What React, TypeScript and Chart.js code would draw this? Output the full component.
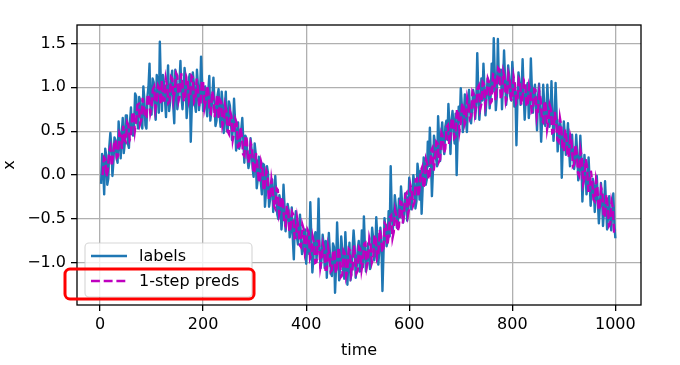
import React, { useEffect, useRef } from 'react';
import { Chart, registerables } from 'chart.js';

Chart.register(...registerables);

// Noisy observations ("labels"), time = 2, 4, ..., 1000
const labelValues = [
  -0.1, 0.24, 0.11, -0.22, 0.3, 0.22, -0.11, -0.04, 0.33, 0.48,
  0.32, -0.01, 0.16, 0.43, 0.4, 0.2, 0.14, 0.61, 0.43, 0.19,
  0.46, 0.65, 0.25, 0.36, 0.68, 0.68, 0.36, 0.31, 0.6, 0.77,
  0.5, 0.45, 0.57, 0.93, 0.9, 0.61, 0.53, 0.89, 0.85, 0.6,
  0.53, 1.01, 0.86, 0.57, 0.53, 0.9, 1.01, 1.27, 0.73, 0.69,
  1.1, 1.06, 0.77, 0.63, 1.14, 1.05, 0.71, 1.52, 1.03, 0.73,
  1.14, 1.05, 0.86, 0.66, 1.02, 1.25, 0.73, 0.83, 1.09, 1.19,
  0.79, 0.59, 1.2, 1.15, 0.75, 0.9, 1.05, 1.3, 0.9, 0.75,
  0.95, 1.22, 1.1, 0.65, 0.8, 1.09, 1.15, 0.38, 0.78, 1.17,
  1.05, 0.81, 0.72, 1.2, 1.02, 0.74, 0.88, 1.35, 1.05, 0.73,
  0.95, 1.01, 0.78, 0.67, 0.96, 1.13, 0.62, 0.73, 0.9, 1.11,
  0.85, 0.56, 0.62, 0.91, 0.98, 0.68, 0.55, 0.95, 0.8, 0.48,
  0.72, 0.95, 0.5, 0.52, 0.84, 0.79, 0.6, 0.4, 0.55, 0.87,
  0.62, 0.28, 0.4, 0.6, 0.3, 0.36, 0.52, 0.65, 0.4, 0.14,
  0.45, 0.42, 0.2, 0.08, 0.15, 0.42, 0.3, 0.08, -0.02, 0.36,
  0.25, -0.15, -0.05, 0.21, 0.15, -0.08, -0.22, 0.13, 0.12, -0.36,
  -0.2, 0.1, 0.02, -0.36, -0.28, -0.08, -0.05, -0.42, -0.3, -0.01,
  -0.22, -0.45, -0.5, -0.23, -0.3, -0.62, -0.48, -0.11, -0.35, -0.64,
  -0.52, -0.33, -0.4, -0.71, -0.6, -0.37, -0.72, -0.96, -0.55, -0.41,
  -0.7, -0.79, -0.6, -0.45, -0.75, -0.9, -0.85, -0.63, -0.62, -1.01,
  -0.8, -0.64, -0.9, -0.31, -0.72, -1.11, -0.95, -0.7, -0.65, -0.97,
  -0.78, -0.27, -0.85, -1.06, -0.95, -0.68, -0.8, -1.06, -0.75, -1.17,
  -0.9, -0.66, -0.88, -1.12, -1.15, -0.78, -0.82, -1.34, -1.05, -0.54,
  -0.88, -1.2, -1.02, -0.7, -0.85, -1.12, -1.18, -0.65, -0.92, -1.25,
  -0.95, -0.77, -1.2, -1.09, -0.85, -0.63, -0.8, -1.17, -1.05, -0.84,
  -0.75, -1.1, -0.98, -0.63, -1.05, -0.47, -0.82, -1.1, -0.95, -0.78,
  -0.95, -1.07, -0.85, -0.6, -0.72, -0.97, -0.9, -0.48, -0.7, -1.02,
  -0.85, -0.6, -0.78, -1.32, -0.9, -0.49, -0.62, -0.81, -0.75, -0.41,
  -0.7, 0.1, -0.4, -0.62, -0.5, -0.23, -0.35, -0.6, -0.55, -0.27,
  -0.48, -0.13, -0.3, -0.54, -0.45, -0.21, -0.25, -0.52, -0.38, -0.03,
  -0.2, -0.39, -0.25, 0.0, -0.1, -0.38, -0.3, 0.13, 0.02, -0.28,
  0.05, -0.44, -0.15, 0.2, 0.15, -0.11, -0.05, 0.38, 0.1, 0.54,
  0.2, -0.24, 0.05, 0.45, 0.35, 0.19, 0.1, 0.67, 0.4, 0.16,
  0.45, 0.6, 0.35, 0.24, 0.55, 0.62, 0.4, 0.81, 0.55, 0.24,
  0.62, 0.73, 0.55, 0.36, 0.7, 0.0, 0.45, 0.78, 0.6, 0.99,
  0.8, 0.49, 0.7, 0.92, 0.62, 0.49, 0.85, 0.97, 0.75, 0.59,
  0.75, 0.97, 0.9, 0.64, 0.82, 1.39, 0.95, 0.63, 0.8, 1.1,
  0.85, 1.27, 1.0, 0.68, 0.88, 1.1, 1.05, 0.76, 0.9, 1.27,
  0.95, 1.56, 1.15, 0.74, 0.9, 1.55, 1.05, 1.1, 1.2, 0.75,
  1.05, 1.42, 1.1, 0.8, 0.92, 1.25, 1.12, 0.9, 0.85, 1.29,
  1.1, 0.78, 0.95, 0.34, 0.85, 1.17, 1.05, 0.8, 0.95, 1.32,
  0.95, 0.63, 0.85, 1.01, 1.05, 0.65, 0.8, 1.33, 0.98, 0.71,
  0.95, 1.03, 0.75, 0.51, 0.9, 1.04, 0.72, 0.38, 0.65, 1.03,
  0.8, 0.56, 0.65, 1.03, 0.78, 0.55, 0.62, 1.07, 0.7, 0.39,
  0.62, 1.05, 0.7, 0.27, 0.45, 0.63, 0.55, -0.03, 0.35, 0.61,
  0.45, 0.23, 0.4, 0.59, 0.3, 0.1, 0.35, 0.46, 0.22, 0.07,
  0.18, 0.46, 0.25, -0.06, 0.05, 0.45, 0.2, -0.3, -0.05, 0.23,
  0.05, -0.22, -0.1, 0.2, -0.05, -0.35, -0.2, -0.04, -0.1, -0.42,
  -0.2, -0.01, -0.3, -0.55, -0.35, -0.09, -0.25, -0.58, -0.4, -0.07,
  -0.35, -0.62, -0.45, -0.24, -0.5, -0.63, -0.4, -0.21, -0.55, -0.72,
];
const labelStartTime = 2;
const labelTimeStep = 2;

// One-step-ahead predictions, time = 5, 7.5, ..., 1000
const predValues = [
  0.0, 0.2, 0.18, -0.02, 0.05, 0.27, 0.32, 0.1, 0.21, 0.38, 0.4, 0.2, 0.22, 0.48, 0.45, 0.3, 0.56, 0.4, 0.38, 0.6,
  0.57, 0.4, 0.44, 0.72, 0.71, 0.5, 0.61, 0.8, 0.81, 0.58, 0.63, 0.88, 0.77, 0.65, 0.66, 0.92, 0.91, 0.7, 0.77, 0.98,
  1.01, 0.75, 0.84, 1.02, 0.99, 0.8, 1.08, 0.85, 0.85, 1.1, 1.02, 0.82, 0.84, 1.12, 1.1, 0.86, 0.96, 1.16, 1.13, 0.85,
  0.91, 1.16, 1.05, 0.84, 0.87, 1.12, 1.08, 0.85, 0.91, 1.13, 1.11, 0.83, 0.86, 1.1, 0.99, 0.78, 0.81, 1.08, 1.06, 0.76,
  0.84, 1.02, 0.96, 0.72, 0.7, 0.96, 0.89, 0.66, 0.8, 0.92, 0.64, 0.86, 0.83, 0.56, 0.62, 0.8, 0.73, 0.5, 0.47, 0.72,
  0.67, 0.4, 0.48, 0.64, 0.6, 0.32, 0.33, 0.55, 0.45, 0.24, 0.22, 0.45, 0.39, 0.14, 0.19, 0.36, 0.31, 0.02, 0.05, 0.25,
  0.13, -0.05, -0.09, 0.15, 0.09, -0.18, -0.12, 0.05, 0.01, -0.28, -0.26, -0.05, -0.16, -0.35, -0.38, -0.15, -0.17, -0.45, -0.39, -0.25,
  -0.31, -0.55, -0.58, -0.35, -0.39, -0.65, -0.59, -0.42, -0.45, -0.72, -0.71, -0.5, -0.61, -0.8, -0.82, -0.56, -0.61, -0.88, -0.81, -0.62,
  -0.65, -0.95, -0.91, -0.7, -0.77, -1.0, -0.99, -0.75, -0.75, -1.05, -0.96, -0.78, -0.84, -1.08, -1.08, -0.82, -0.91, -1.1, -1.08, -0.85,
  -0.87, -1.12, -1.04, -0.82, -0.91, -1.16, -1.14, -0.86, -0.89, -1.15, -1.08, -0.84, -0.86, -1.14, -1.09, -0.8, -0.92, -1.12, -1.09, -0.82,
  -0.84, -1.08, -0.99, -0.78, -0.77, -1.05, -0.98, -0.72, -0.79, -1.0, -0.95, -0.68, -0.71, -0.95, -0.91, -0.62, -0.69, -0.88, -0.83, -0.55,
  -0.57, -0.8, -0.7, -0.48, -0.46, -0.72, -0.65, -0.4, -0.47, -0.64, -0.59, -0.3, -0.31, -0.55, -0.43, -0.22, -0.2, -0.45, -0.38, -0.12,
  -0.18, -0.35, -0.31, -0.05, -0.04, -0.25, -0.16, 0.05, 0.09, -0.15, -0.09, 0.18, 0.13, -0.05, 0.0, 0.28, 0.31, 0.05, 0.17, 0.38,
  0.36, 0.15, 0.18, 0.48, 0.44, 0.25, 0.3, 0.55, 0.57, 0.35, 0.45, 0.65, 0.63, 0.42, 0.44, 0.75, 0.73, 0.5, 0.6, 0.8,
  0.82, 0.58, 0.63, 0.88, 0.81, 0.64, 0.67, 0.95, 0.92, 0.7, 0.78, 0.99, 1.02, 0.75, 0.81, 1.06, 1.04, 0.8, 0.89, 1.1,
  1.06, 0.82, 0.84, 1.15, 1.14, 0.85, 1.03, 1.22, 1.2, 0.86, 0.92, 1.18, 1.12, 0.84, 0.9, 1.15, 1.09, 0.86, 0.85, 1.12,
  1.04, 0.82, 0.85, 1.1, 1.07, 0.8, 0.89, 1.08, 1.05, 0.78, 0.8, 1.02, 0.96, 0.72, 0.74, 0.98, 0.97, 0.66, 0.74, 0.95,
  0.87, 0.62, 0.6, 0.85, 0.79, 0.52, 0.61, 0.8, 0.75, 0.48, 0.49, 0.72, 0.61, 0.4, 0.38, 0.65, 0.56, 0.3, 0.27, 0.52,
  0.42, 0.2, 0.23, 0.45, 0.39, 0.1, 0.12, 0.35, 0.25, 0.02, -0.01, 0.28, 0.19, -0.1, -0.04, 0.18, 0.1, -0.18, -0.18, 0.05,
  -0.07, -0.28, -0.3, -0.05, -0.13, -0.4, -0.35, -0.15, -0.2, -0.48, -0.48, -0.22, -0.35, -0.58, -0.56, -0.3, -0.37, -0.66, -0.62,
];
const predStartTime = 5;
const predTimeStep = 2.5;

const seriesNames = ['labels', '1-step preds'];
const xTickValues = [0, 200, 400, 600, 800, 1000];
const yTickValues = [-1.0, -0.5, 0.0, 0.5, 1.0, 1.5];
const xRange = [-44.75, 1049.75];
const yRange = [-1.48, 1.71];
const xTitle = 'time';
const yTitle = 'x';

const FONT = '"DejaVu Sans", "Liberation Sans", sans-serif';
const FONT_SIZE = 16;
const BLUE = '#1f77b4';
const MAGENTA = '#bf00bf';
const LINE_W = 2.4;
const DASH = [8.9, 3.8];

function roundRectPath(ctx: CanvasRenderingContext2D, x: number, y: number, w: number, h: number, r: number) {
  ctx.beginPath();
  ctx.moveTo(x + r, y);
  ctx.lineTo(x + w - r, y);
  ctx.arcTo(x + w, y, x + w, y + r, r);
  ctx.lineTo(x + w, y + h - r);
  ctx.arcTo(x + w, y + h, x + w - r, y + h, r);
  ctx.lineTo(x + r, y + h);
  ctx.arcTo(x, y + h, x, y + h - r, r);
  ctx.lineTo(x, y + r);
  ctx.arcTo(x, y, x + r, y, r);
  ctx.closePath();
}

const decorPlugin = {
  id: 'decor',
  afterDraw(chart: any) {
    const { ctx, chartArea: a } = chart;
    ctx.save();
    // axes frame (all four spines)
    ctx.strokeStyle = '#000';
    ctx.lineWidth = 1.3;
    ctx.strokeRect(a.left, a.top, a.right - a.left, a.bottom - a.top);

    // legend (lower left, inside axes)
    const lx = a.left + 8;
    const ly = 243;
    const lw = 167;
    const lh = 54;
    roundRectPath(ctx, lx, ly, lw, lh, 4);
    ctx.fillStyle = 'rgba(255,255,255,0.8)';
    ctx.fill();
    ctx.strokeStyle = 'rgba(204,204,204,0.8)';
    ctx.lineWidth = 1.1;
    ctx.stroke();

    const rows = [
      { y: ly + 13, color: BLUE, dash: [] as number[] },
      { y: ly + 38, color: MAGENTA, dash: DASH },
    ];
    ctx.font = `${FONT_SIZE}px ${FONT}`;
    ctx.textBaseline = 'middle';
    ctx.textAlign = 'left';
    rows.forEach((r, i) => {
      ctx.beginPath();
      ctx.setLineDash(r.dash);
      ctx.strokeStyle = r.color;
      ctx.lineWidth = LINE_W;
      ctx.moveTo(lx + 6, r.y);
      ctx.lineTo(lx + 42, r.y);
      ctx.stroke();
      ctx.setLineDash([]);
      ctx.fillStyle = '#000';
      ctx.fillText(seriesNames[i], lx + 54, r.y + 1);
    });

    // red highlight box around the second legend entry
    roundRectPath(ctx, 65, 269, 189, 30, 5);
    ctx.strokeStyle = '#ff0000';
    ctx.lineWidth = 3;
    ctx.stroke();
    ctx.restore();
  },
};

export default function App() {
  const canvasRef = useRef<HTMLCanvasElement | null>(null);

  useEffect(() => {
    const canvas = canvasRef.current;
    if (!canvas) return;
    const labelData = labelValues.map((v, i) => ({ x: labelStartTime + labelTimeStep * i, y: v }));
    const predData = predValues.map((v, i) => ({ x: predStartTime + predTimeStep * i, y: v }));

    const tickFont = { family: FONT, size: FONT_SIZE };
    const gridOpts = {
      color: '#b0b0b0',
      lineWidth: 1.3,
      tickColor: '#000',
      tickLength: 6,
      tickWidth: 1.3,
    };

    const chart = new Chart(canvas, {
      type: 'line',
      data: {
        datasets: [
          {
            label: seriesNames[0],
            data: labelData,
            borderColor: BLUE,
            backgroundColor: BLUE,
            borderWidth: LINE_W,
            pointRadius: 0,
            tension: 0,
            borderJoinStyle: 'round',
            fill: false,
            order: 2,
          },
          {
            label: seriesNames[1],
            data: predData,
            borderColor: MAGENTA,
            backgroundColor: MAGENTA,
            borderWidth: LINE_W,
            borderDash: DASH,
            pointRadius: 0,
            tension: 0,
            fill: false,
            order: 1,
          },
        ],
      },
      options: {
        responsive: false,
        animation: false,
        devicePixelRatio: 1,
        layout: { padding: { left: 0, right: 39, top: 25, bottom: 5 } },
        plugins: { legend: { display: false }, tooltip: { enabled: false } },
        scales: {
          x: {
            type: 'linear',
            min: xRange[0],
            max: xRange[1],
            afterBuildTicks: (s: any) => {
              s.ticks = xTickValues.map((v) => ({ value: v }));
            },
            afterFit: (s: any) => {
              s.height = 55;
            },
            grid: gridOpts,
            border: { display: false },
            ticks: {
              color: '#000',
              font: tickFont,
              padding: 4,
              maxRotation: 0,
              autoSkip: false,
              callback: (v: any) => String(v),
            },
            title: { display: true, text: xTitle, color: '#000', font: tickFont, padding: 0 },
          },
          y: {
            type: 'linear',
            min: yRange[0],
            max: yRange[1],
            afterBuildTicks: (s: any) => {
              s.ticks = yTickValues.map((v) => ({ value: v }));
            },
            afterFit: (s: any) => {
              s.width = 77;
            },
            grid: gridOpts,
            border: { display: false },
            ticks: {
              color: '#000',
              font: tickFont,
              padding: 5,
              autoSkip: false,
              callback: (v: any) => (v < 0 ? '\u2212' : '') + Math.abs(Number(v)).toFixed(1),
            },
            title: { display: true, text: yTitle, color: '#000', font: tickFont, padding: 0 },
          },
        },
      },
      plugins: [decorPlugin],
    } as any);

    return () => chart.destroy();
  }, []);

  return (
    <div style={{ position: 'absolute', left: 0, top: 0, width: 680, height: 365, background: '#fff' }}>
      <canvas ref={canvasRef} width={680} height={365} style={{ display: 'block' }} />
    </div>
  );
}
